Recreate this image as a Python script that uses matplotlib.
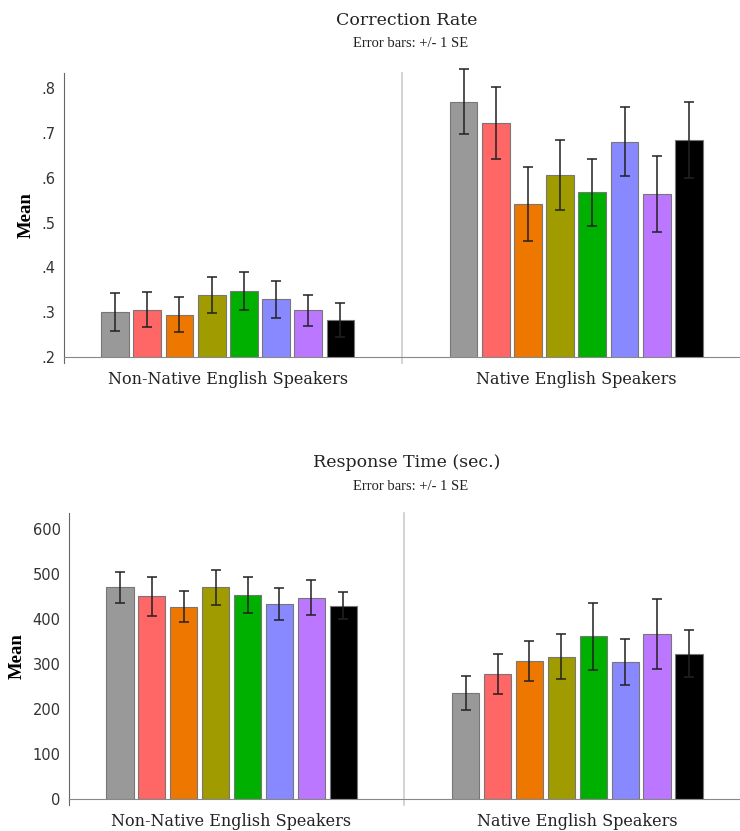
import matplotlib
matplotlib.use("Agg")
import matplotlib.pyplot as plt
from matplotlib.ticker import FuncFormatter
import numpy as np

# groups along the x axis
groups = ["Non-Native English Speakers", "Native English Speakers"]
bar_colors = ["#999999", "#ff6666", "#ee7700", "#a09c00",
              "#00b000", "#8888ff", "#bb77ff", "#000000"]

# Correction Rate
nonnative_cr = [0.300, 0.306, 0.294, 0.338, 0.347, 0.329, 0.304, 0.282]
nonnative_cr_se = [0.043, 0.040, 0.039, 0.040, 0.042, 0.041, 0.035, 0.038]
native_cr = [0.770, 0.722, 0.541, 0.606, 0.568, 0.681, 0.564, 0.685]
native_cr_se = [0.072, 0.081, 0.082, 0.078, 0.075, 0.078, 0.085, 0.085]

# Response Time
nonnative_rt = [470, 450, 427, 470, 453, 433, 447, 429]
nonnative_rt_se = [35, 43, 35, 39, 40, 36, 39, 30]
native_rt = [236, 278, 306, 316, 361, 304, 366, 323]
native_rt_se = [38, 45, 45, 50, 74, 52, 77, 52]

SERIF = "DejaVu Serif"
PITCH = 0.0924
WIDTH = 0.08

fig = plt.figure(figsize=(7.4, 8.31), dpi=100)
ax1 = fig.add_axes([0.0865, 0.5704, 0.9135, 0.3418])
ax2 = fig.add_axes([0.0932, 0.0385, 0.9068, 0.3442])


def draw(ax, vals, ses, ylim, yticks, fmt):
    for g in range(len(groups)):
        for i in range(len(bar_colors)):
            x = g + (i - 3.5) * PITCH
            ax.bar(x, vals[g][i], width=WIDTH, bottom=0, color=bar_colors[i],
                   edgecolor="#777777", linewidth=0.8, zorder=2)
            eb = ax.errorbar(x, vals[g][i], yerr=ses[g][i], color="#222222", alpha=0.85,
                             capsize=3.5, capthick=1.3, elinewidth=1.3, zorder=3)
            for art in eb.lines[1] + eb.lines[2]:
                art.set_clip_on(False)
    ax.set_xlim(-0.47, 1.47)
    ax.set_ylim(*ylim)
    ax.set_yticks(yticks)
    ax.yaxis.set_major_formatter(FuncFormatter(fmt))
    ax.set_xticks(range(len(groups)))
    ax.set_xticklabels(groups, family=SERIF, fontsize=11.5, color="#222222")
    ax.tick_params(axis="x", length=0, pad=10)
    ax.tick_params(axis="y", length=0, pad=6, labelsize=10.5, labelcolor="#333333")
    for lbl in ax.get_yticklabels():
        lbl.set_fontweight("medium")
    for s in ["top", "right"]:
        ax.spines[s].set_visible(False)
    ax.spines["left"].set_color("#666666")
    ax.spines["bottom"].set_color("#888888")
    ax.axvline(0.5, ymin=-0.02, ymax=1, color="#cccccc", linewidth=1.2,
               clip_on=False, zorder=1)
    ax.axvline(-0.47, ymin=-0.02, ymax=0, color="#666666", linewidth=0.8,
               clip_on=False, zorder=1)
    ax.set_ylabel("Mean", family="Liberation Serif", fontweight="bold",
                  fontsize=13.5, labelpad=5)


draw(ax1, [nonnative_cr, native_cr], [nonnative_cr_se, native_cr_se],
     (0.2, 0.834), [0.2, 0.3, 0.4, 0.5, 0.6, 0.7, 0.8],
     lambda v, p: ("%.1f" % v).lstrip("0"))
draw(ax2, [nonnative_rt, native_rt], [nonnative_rt_se, native_rt_se],
     (0, 635), [0, 100, 200, 300, 400, 500, 600],
     lambda v, p: "%d" % v)

fig.text(0.55, 0.975, "Correction Rate", family=SERIF, fontsize=12.5,
         ha="center", va="center", color="#222222")
fig.text(0.555, 0.948, "Error bars: +/- 1 SE", family="Liberation Serif",
         fontsize=10.5, ha="center", va="center", color="#222222")
fig.text(0.55, 0.444, "Response Time (sec.)", family=SERIF, fontsize=12.5,
         ha="center", va="center", color="#222222")
fig.text(0.555, 0.414, "Error bars: +/- 1 SE", family="Liberation Serif",
         fontsize=10.5, ha="center", va="center", color="#222222")

fig.savefig("out.png", dpi=100)
